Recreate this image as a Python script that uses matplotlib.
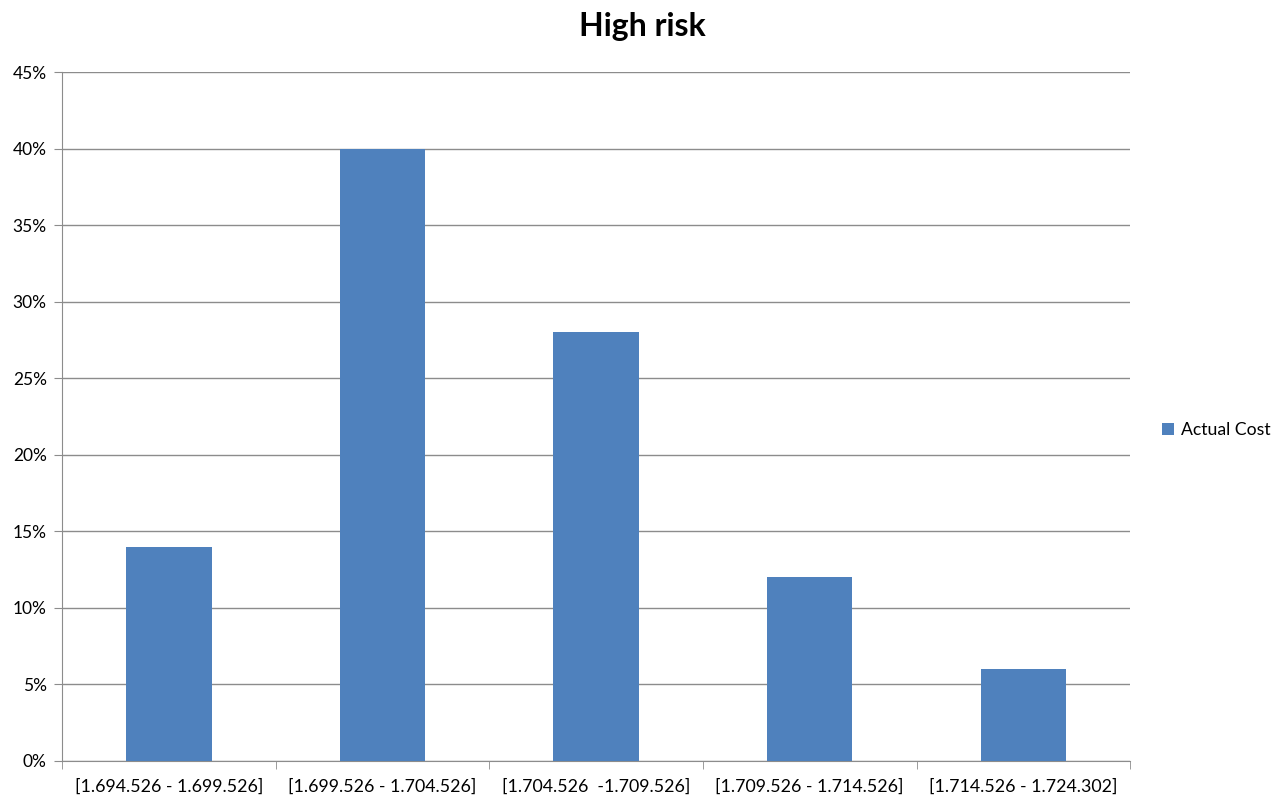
import numpy as np
from matplotlib import pyplot as plt
from matplotlib.ticker import PercentFormatter

categories = ['[1.694.526 - 1.699.526]', '[1.699.526 - 1.704.526]', '[1.704.526  -1.709.526]',
              '[1.709.526 - 1.714.526]', '[1.714.526 - 1.724.302]']
shares = [14, 40, 28, 12, 6]

plt.rcParams['font.family'] = ['Lato', 'DejaVu Sans']

fig = plt.figure(figsize=(12.77, 7.96), dpi=100)
ax = fig.add_axes([0.0486, 0.044, 0.8364, 0.8655])

x = np.arange(len(categories))
ax.bar(x, shares, width=0.4, color='#4F81BD', label='Actual Cost', zorder=3)

ax.set_xlim(-0.5, len(categories) - 0.5)
ax.set_ylim(0, 45)
ax.set_yticks(np.arange(0, 46, 5))
ax.yaxis.set_major_formatter(PercentFormatter(decimals=0))
ax.grid(axis='y', color='#8c8c8c', linewidth=1, zorder=0)

# category ticks sit on the boundaries between bins
ax.set_xticks(x)
ax.set_xticklabels(categories)
ax.set_xticks(np.arange(-0.5, len(categories)), minor=True)
ax.tick_params(axis='x', which='major', length=0, pad=13, labelsize=12.8, colors='#000000')
ax.tick_params(axis='x', which='minor', length=6, color='#8c8c8c', direction='out')
ax.tick_params(axis='y', length=6, color='#8c8c8c', pad=5, labelsize=12.5)

for side in ['top', 'right']:
    ax.spines[side].set_visible(False)
for side in ['left', 'bottom']:
    ax.spines[side].set_color('#8c8c8c')

fig.suptitle('High risk', x=0.503, y=0.985, fontsize=23, fontweight='bold', va='top')
ax.legend(loc='center left', bbox_to_anchor=(1.015, 0.48), frameon=False,
          fontsize=12.7, handlelength=0.7, handleheight=0.7, handletextpad=0.4)

fig.savefig('out.png')
